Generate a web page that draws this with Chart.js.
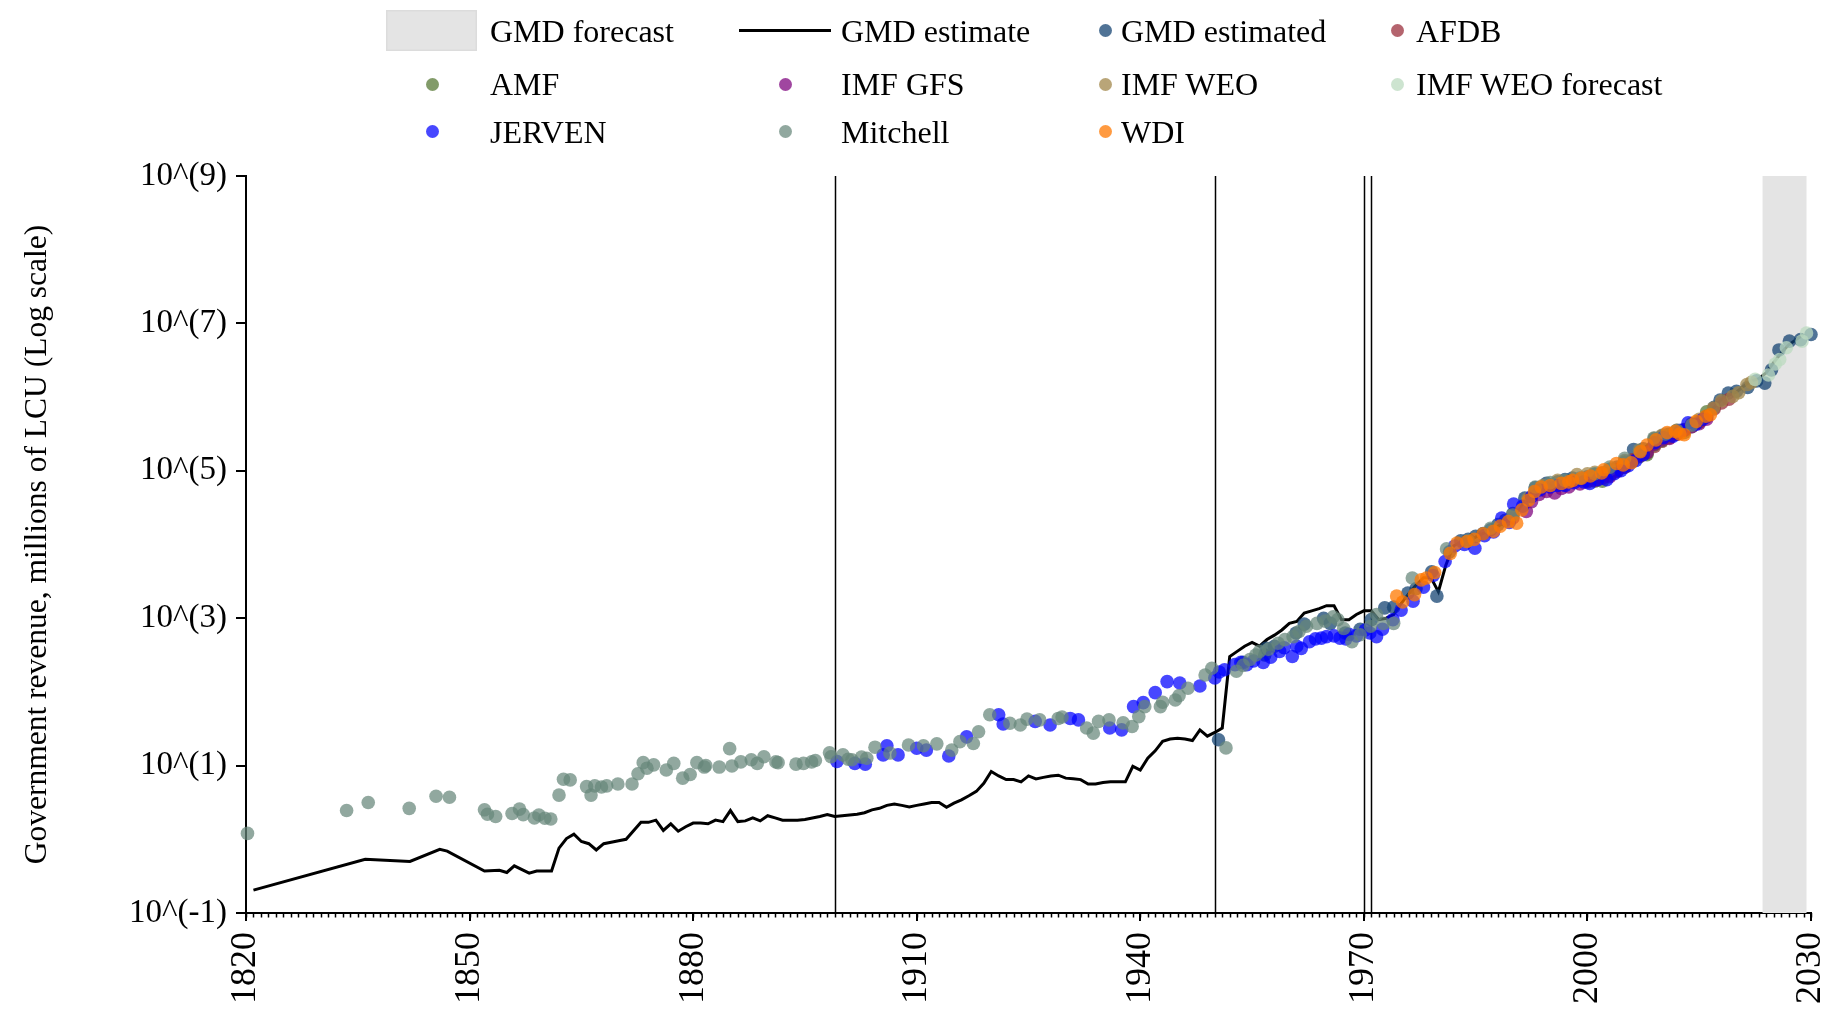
<!DOCTYPE html>
<html><head><meta charset="utf-8">
<script src="https://cdn.jsdelivr.net/npm/chart.js@4.4.1/dist/chart.umd.min.js"></script>
<style>
html,body{margin:0;padding:0;background:#fff;}
#wrap{position:relative;width:1837px;height:1015px;overflow:hidden;}
canvas{position:absolute;left:0;top:0;}
.lg{position:absolute;font-family:'Liberation Serif','Times New Roman',serif;font-size:32px;line-height:32px;color:#000;white-space:nowrap;}
.sw{position:absolute;}
</style></head><body>
<div id="wrap"><canvas id="c" width="1837" height="1015"></canvas><div id="legend"></div></div>
<script>
// ---- axis ticks / annotations ----
const xTicks = [1820,1850,1880,1910,1940,1970,2000,2030];
const yTicks = [-1,1,3,5,7,9];
const yTickLabels = ['10^(-1)','10^(1)','10^(3)','10^(5)','10^(7)','10^(9)'];
const breakYears = [1899,1950,1970,1971];
const forecastSpan = [2023.5,2029.4];
const yTitle = 'Government revenue, millions of LCU (Log scale)';

// ---- series: [year, log10(value)] ----
const gmdEstimate = [[1821,-0.69],[1836,-0.27],[1842,-0.30],[1846,-0.135],[1847,-0.16],[1852,-0.43],[1854,-0.42],[1855,-0.45],[1856,-0.36],[1858,-0.46],[1859,-0.43],[1861,-0.43],[1862,-0.12],[1863,0.01],[1864,0.07],[1865,-0.03],[1866,-0.06],[1867,-0.145],[1868,-0.06],[1869,-0.04],[1870,-0.02],[1871,0.0],[1873,0.23],[1874,0.23],[1875,0.26],[1876,0.12],[1877,0.21],[1878,0.11],[1879,0.17],[1880,0.22],[1881,0.22],[1882,0.21],[1883,0.26],[1884,0.24],[1885,0.39],[1886,0.24],[1887,0.25],[1888,0.29],[1889,0.25],[1890,0.32],[1891,0.29],[1892,0.26],[1893,0.26],[1894,0.26],[1895,0.27],[1896,0.29],[1897,0.31],[1898,0.335],[1899,0.31],[1900,0.32],[1901,0.33],[1902,0.34],[1903,0.36],[1904,0.40],[1905,0.42],[1906,0.46],[1907,0.48],[1908,0.46],[1909,0.44],[1910,0.46],[1911,0.48],[1912,0.50],[1913,0.50],[1914,0.435],[1915,0.49],[1916,0.535],[1917,0.59],[1918,0.65],[1919,0.76],[1920,0.92],[1921,0.86],[1922,0.81],[1923,0.81],[1924,0.78],[1925,0.86],[1926,0.82],[1927,0.84],[1928,0.86],[1929,0.87],[1930,0.83],[1931,0.82],[1932,0.81],[1933,0.75],[1934,0.75],[1935,0.77],[1936,0.78],[1937,0.78],[1938,0.78],[1939,0.99],[1940,0.94],[1941,1.10],[1942,1.20],[1943,1.33],[1944,1.36],[1945,1.37],[1946,1.36],[1947,1.34],[1948,1.485],[1949,1.40],[1950,1.45],[1951,1.51],[1952,2.48],[1953,2.55],[1954,2.62],[1955,2.67],[1956,2.62],[1957,2.71],[1958,2.77],[1959,2.84],[1960,2.93],[1961,2.955],[1962,3.07],[1963,3.10],[1964,3.13],[1965,3.17],[1966,3.17],[1967,2.98],[1968,2.98],[1969,3.05],[1970,3.10],[1971,3.10],[1972,2.98],[1973,3.00],[1974,3.05],[1975,3.20],[1976,3.33],[1977,3.45],[1978,3.55],[1979,3.55],[1980,3.36],[1981,3.72],[1982,3.98],[1983,4.03],[1984,4.05],[1985,4.10],[1986,4.15],[1987,4.19],[1988,4.25],[1989,4.30],[1990,4.38],[1991,4.50],[1992,4.65],[1993,4.74],[1994,4.80],[1995,4.82],[1996,4.84],[1997,4.86],[1998,4.88],[1999,4.89],[2000,4.92],[2001,4.95],[2002,4.98],[2003,5.03],[2004,5.08],[2005,5.14],[2006,5.20],[2007,5.27],[2008,5.34],[2009,5.42],[2010,5.47],[2011,5.51],[2012,5.55],[2013,5.59],[2014,5.64],[2015,5.69],[2016,5.77],[2017,5.86],[2018,5.97],[2019,6.03],[2020,6.07],[2021,6.15],[2022,6.22],[2023,6.25],[2024,6.33],[2025,6.47],[2026,6.60],[2027,6.71],[2028,6.78],[2029,6.85]];

const gmdEstimated = [[1950.5,1.35],[1953.8,2.40],[1956.7,2.50],[1956.9,2.59],[1958,2.62],[1960.9,2.80],[1962,2.92],[1964.6,3.00],[1965.5,2.93],[1967.5,2.80],[1969.5,2.85],[1971,2.98],[1972.8,3.14],[1974,3.15],[1975.9,3.34],[1977,3.40],[1979.1,3.63],[1979.8,3.30],[1981.5,3.90],[1983,4.05],[1984,4.07],[1985,4.11],[1986,4.15],[1987,4.20],[1988,4.27],[1989,4.33],[1990,4.42],[1991.6,4.63],[1993,4.77],[1994.5,4.83],[1996,4.85],[1997,4.88],[1998,4.90],[2000,4.92],[2001,4.95],[2002,4.97],[2003,5.02],[2004,5.05],[2005,5.12],[2006.2,5.29],[2007.5,5.30],[2009,5.43],[2010,5.47],[2011,5.50],[2012,5.54],[2013,5.56],[2014,5.63],[2015,5.67],[2016,5.74],[2017,5.86],[2017.8,5.96],[2018.9,6.055],[2020,6.08],[2021.5,6.13],[2022.7,6.22],[2023.8,6.19],[2024.7,6.37],[2025.7,6.64],[2027.1,6.76],[2028.6,6.78],[2030,6.85]];

const afdb = [[1998,4.86],[1999,4.88],[2000,4.90],[2001,4.91],[2002,4.93],[2003,4.97],[2004,5.02],[2005,5.08],[2006,5.15],[2007,5.20],[2008,5.24],[2009,5.33],[2010,5.40],[2011,5.45],[2012,5.50],[2013,5.55],[2014,5.62],[2015,5.66],[2016,5.73],[2017,5.84],[2018,5.92],[2019,5.97]];

const amf = [[2000,4.87],[2001,4.86],[2002,4.86],[2003,4.94],[2004,5.00],[2005,5.05],[2006,5.12],[2007,5.19],[2008,5.22],[2009,5.35],[2010,5.41],[2011,5.46],[2012,5.50],[2013,5.52],[2014,5.60],[2015,5.66],[2016,5.80]];

const imfGfs = [[1990,4.36],[1991.8,4.45],[1992.5,4.58],[1993.5,4.68],[1994.5,4.72],[1995.6,4.70],[1996.5,4.76],[1997.5,4.78],[1999,4.82],[2000,4.85],[2001,4.87],[2002,4.90],[2003,4.92],[2004,4.99],[2005,5.05],[2006,5.13],[2007,5.20],[2008,5.25],[2009,5.36],[2010,5.42],[2011,5.44],[2012,5.50],[2013,5.55],[2014,5.60],[2015,5.64],[2016,5.70]];

const imfWeo = [[1990,4.40],[1992,4.62],[1994,4.80],[1996,4.87],[1998.6,4.95],[2000,4.96],[2001,4.98],[2003,5.02],[2005,5.14],[2007,5.28],[2009,5.44],[2010,5.48],[2012,5.55],[2014,5.64],[2015,5.70],[2016.9,5.85],[2018,5.95],[2019.5,6.01],[2020.3,6.06],[2021.4,6.17],[2022,6.20]];

const imfWeoForecast = [[2022.5,6.24],[2024.3,6.30],[2025.2,6.45],[2025.8,6.51],[2026.7,6.67],[2028.8,6.76],[2029.4,6.87]];

const jerven = [[1899.3,1.055],[1901.7,1.03],[1903.1,1.02],[1905.5,1.145],[1906.0,1.27],[1907.5,1.145],[1910.0,1.235],[1911.3,1.21],[1914.3,1.13],[1916.7,1.39],[1921.0,1.69],[1921.6,1.565],[1925.9,1.60],[1927.9,1.55],[1930.6,1.64],[1931.7,1.62],[1935.9,1.51],[1937.5,1.485],[1939.1,1.80],[1940.4,1.855],[1942.0,1.99],[1943.6,2.14],[1945.3,2.12],[1948.0,2.08],[1950.0,2.19],[1950.6,2.27],[1951.3,2.30],[1952.7,2.37],[1953.5,2.40],[1954.3,2.37],[1955.2,2.42],[1956.5,2.40],[1957.5,2.47],[1958.7,2.55],[1959.3,2.60],[1960.4,2.48],[1961.0,2.62],[1961.6,2.59],[1962.7,2.68],[1963.5,2.72],[1964.3,2.73],[1965.0,2.75],[1966.0,2.76],[1966.8,2.73],[1967.6,2.72],[1968.0,2.78],[1969.0,2.76],[1970.2,2.84],[1970.8,2.80],[1971.7,2.75],[1972.5,2.85],[1973.9,2.98],[1975.0,3.11],[1976.6,3.23],[1978.0,3.42],[1979.3,3.58],[1980.9,3.77],[1982.2,3.98],[1983.5,4.00],[1984.9,3.95],[1986.2,4.12],[1987.4,4.17],[1988.5,4.36],[1989.5,4.30],[1990.1,4.55],[1991.3,4.52],[1992.5,4.65],[1993.6,4.74],[1995.0,4.78],[1996.0,4.80],[1997.0,4.80],[1998.2,4.84],[1999.5,4.85],[2000.3,4.83],[2001.4,4.88],[2002.6,4.88],[2003.6,4.96],[2004.5,5.00],[2005.5,5.07],[2006.5,5.14],[2007.5,5.22],[2009,5.38],[2010.2,5.45],[2011.5,5.47],[2012.5,5.55],[2013.5,5.65],[2014.5,5.63],[2015.5,5.70]];

const mitchell = [[1820.2,0.08],[1833.5,0.39],[1836.4,0.50],[1841.9,0.42],[1845.5,0.585],[1847.3,0.57],[1852.0,0.40],[1852.4,0.34],[1853.5,0.31],[1855.7,0.35],[1856.7,0.41],[1857.2,0.335],[1858.7,0.29],[1859.3,0.33],[1860.1,0.285],[1860.9,0.275],[1862.0,0.60],[1862.6,0.815],[1863.5,0.806],[1865.7,0.715],[1866.3,0.60],[1866.8,0.725],[1867.7,0.71],[1868.4,0.725],[1869.9,0.75],[1871.8,0.75],[1872.6,0.89],[1873.3,1.04],[1873.8,0.965],[1874.7,1.01],[1876.4,0.94],[1877.4,1.03],[1878.6,0.83],[1879.6,0.88],[1880.5,1.04],[1881.5,0.98],[1881.7,1.00],[1883.5,0.98],[1884.9,1.23],[1885.2,0.995],[1886.4,1.05],[1887.8,1.08],[1888.6,1.03],[1889.5,1.12],[1891.1,1.05],[1891.4,1.04],[1893.8,1.02],[1894.8,1.03],[1895.9,1.05],[1896.4,1.07],[1898.3,1.175],[1898.5,1.12],[1900.1,1.145],[1900.8,1.087],[1901.3,1.08],[1902.6,1.115],[1903.3,1.10],[1904.4,1.25],[1906.4,1.17],[1908.9,1.28],[1910.9,1.27],[1912.7,1.295],[1914.7,1.21],[1915.8,1.325],[1917.6,1.30],[1918.3,1.46],[1919.8,1.69],[1922.5,1.575],[1923.9,1.55],[1924.8,1.63],[1926.5,1.62],[1929.0,1.64],[1929.5,1.66],[1932.8,1.51],[1933.7,1.44],[1934.4,1.60],[1935.8,1.62],[1937.7,1.58],[1938.9,1.53],[1939.8,1.665],[1940.6,1.80],[1942.7,1.80],[1943.0,1.86],[1944.7,1.89],[1945.2,1.95],[1946.4,2.05],[1948.7,2.23],[1949.6,2.32],[1951.5,1.24],[1952.9,2.28],[1953.8,2.36],[1954.7,2.44],[1955.5,2.50],[1956.0,2.55],[1957.2,2.58],[1958.5,2.66],[1959.4,2.71],[1960.5,2.75],[1961.3,2.82],[1962.3,2.89],[1963.7,2.93],[1964.8,2.96],[1965.9,3.02],[1966.5,2.98],[1967.3,2.86],[1968.4,2.68],[1969.5,2.775],[1970.9,2.89],[1971.7,3.05],[1972.6,2.93],[1974.0,2.93],[1976.5,3.545],[1981.1,3.94],[1984,4.05],[1987.0,4.22],[1990,4.40],[1993,4.78],[1995,4.84],[1997,4.87],[1999.0,4.90],[2001,4.96],[2003,5.05],[2005,5.17],[2007,5.27],[2008.9,5.445],[2010.5,5.50],[2012,5.55],[2014,5.62]];

const wdi = [[1974.4,3.30],[1975.2,3.22],[1976.8,3.32],[1977.7,3.52],[1978.4,3.545],[1979.5,3.62],[1981.6,3.88],[1982.5,4.02],[1983.8,4.04],[1984.8,4.07],[1986.0,4.145],[1987.4,4.18],[1988.3,4.25],[1989.4,4.31],[1990.5,4.29],[1991.2,4.47],[1992.1,4.60],[1992.9,4.72],[1993.8,4.78],[1995.0,4.80],[1996.5,4.83],[1997.5,4.85],[1998,4.87],[1999.2,4.90],[2000.4,4.93],[2001.9,4.97],[2002.2,5.015],[2003.9,5.10],[2004.8,5.08],[2005.9,5.11],[2007.1,5.26],[2008.0,5.35],[2009.2,5.42],[2010.7,5.52],[2011.8,5.535],[2012.4,5.50],[2013.0,5.49],[2014.6,5.67],[2015.9,5.74],[2016.5,5.76]];

// ---- styles ----
const pts = a => a.map(([x,y]) => ({x, y}));
const scatterSeries = [
  {label:'GMD estimated', data:gmdEstimated, color:'rgba(22,68,115,0.75)', order:10},
  {label:'AFDB', data:afdb, color:'rgba(155,48,62,0.75)', order:9},
  {label:'AMF', data:amf, color:'rgba(88,122,55,0.75)', order:8},
  {label:'IMF GFS', data:imfGfs, color:'rgba(128,8,128,0.75)', order:7},
  {label:'IMF WEO', data:imfWeo, color:'rgba(162,135,75,0.75)', order:6},
  {label:'IMF WEO forecast', data:imfWeoForecast, color:'rgba(188,219,192,0.75)', order:5},
  {label:'JERVEN', data:jerven, color:'rgba(0,0,255,0.72)', order:4},
  {label:'Mitchell', data:mitchell, color:'rgba(102,135,122,0.72)', order:3},
  {label:'WDI', data:wdi, color:'rgba(255,120,0,0.75)', order:2}
];
const datasets = [{
  type:'line', label:'GMD estimate', data:pts(gmdEstimate), borderColor:'#000', borderWidth:3,
  pointRadius:0, fill:false, tension:0, order:20, clip:false
}].concat(scatterSeries.map(s => ({
  type:'scatter', label:s.label, data:pts(s.data), backgroundColor:s.color, borderWidth:0,
  pointRadius:6.8, pointHoverRadius:6.8, order:s.order, clip:false
})));

const FONT = 'Liberation Serif';
const decor = {
  id:'decor',
  beforeDatasetsDraw(chart){
    const {ctx, chartArea:a, scales:{x}} = chart;
    ctx.save();
    const x0 = x.getPixelForValue(forecastSpan[0]), x1 = x.getPixelForValue(forecastSpan[1]);
    ctx.fillStyle = '#e4e4e4';
    ctx.fillRect(x0, a.top, x1 - x0, a.bottom - a.top);
    ctx.strokeStyle = '#000'; ctx.lineWidth = 1.5;
    breakYears.forEach(yr => {
      const px = Math.round(x.getPixelForValue(yr)) + 0.5;
      ctx.beginPath(); ctx.moveTo(px, a.top); ctx.lineTo(px, a.bottom); ctx.stroke();
    });
    ctx.restore();
  },
  afterDraw(chart){
    const {ctx, chartArea:a, scales:{x}} = chart;
    ctx.save();
    ctx.strokeStyle = '#000'; ctx.lineWidth = 1.5;
    for (let yr = xTicks[0]; yr <= xTicks[xTicks.length-1]; yr++) {
      const px = Math.round(x.getPixelForValue(yr)) + 0.5;
      ctx.beginPath(); ctx.moveTo(px, a.bottom); ctx.lineTo(px, a.bottom + 4.5); ctx.stroke();
    }
    ctx.restore();
  }
};

new Chart(document.getElementById('c'), {
  type:'scatter',
  data:{datasets},
  options:{
    responsive:false, animation:false, events:[],
    layout:{padding:{top:176, left:19, right:26, bottom:0}},
    plugins:{legend:{display:false}, tooltip:{enabled:false}},
    scales:{
      x:{type:'linear', min:xTicks[0], max:xTicks[xTicks.length-1],
        afterBuildTicks:s => { s.ticks = xTicks.map(v => ({value:v})); },
        afterFit:s => { s.height = 102; s.paddingLeft = 0; s.paddingRight = 0; },
        ticks:{autoSkip:false, maxRotation:90, minRotation:90, padding:11, color:'#000',
          font:{family:FONT, size:36}, callback:v => String(v)},
        grid:{drawOnChartArea:false, drawTicks:true, tickLength:8, color:'#000', lineWidth:2},
        border:{display:true, color:'#000', width:2}
      },
      y:{type:'linear', min:yTicks[0], max:yTicks[yTicks.length-1],
        afterBuildTicks:s => { s.ticks = yTicks.map(v => ({value:v})); },
        afterFit:s => { s.width = 227; s.paddingTop = 0; s.paddingBottom = 0; },
        ticks:{autoSkip:false, padding:9, color:'#000', font:{family:FONT, size:33},
          callback:v => yTickLabels[yTicks.indexOf(v)]},
        grid:{drawOnChartArea:false, drawTicks:true, tickLength:10, color:'#000', lineWidth:2},
        border:{display:true, color:'#000', width:2},
        title:{display:true, text:yTitle, color:'#000', font:{family:FONT, size:31.5}, padding:{top:0, bottom:0}}
      }
    }
  },
  plugins:[decor]
});

// ---- legend (HTML text) ----
const legendItems = [
  {label:'GMD forecast', kind:'box', color:'#e4e4e4'},
  {label:'GMD estimate', kind:'line', color:'#000'},
  {label:'GMD estimated', kind:'dot', color:scatterSeries[0].color},
  {label:'AFDB', kind:'dot', color:scatterSeries[1].color},
  {label:'AMF', kind:'dot', color:scatterSeries[2].color},
  {label:'IMF GFS', kind:'dot', color:scatterSeries[3].color},
  {label:'IMF WEO', kind:'dot', color:scatterSeries[4].color},
  {label:'IMF WEO forecast', kind:'dot', color:scatterSeries[5].color},
  {label:'JERVEN', kind:'dot', color:scatterSeries[6].color},
  {label:'Mitchell', kind:'dot', color:scatterSeries[7].color},
  {label:'WDI', kind:'dot', color:scatterSeries[8].color}
];
const rowY = [30.5, 84, 131.5];
const colText = [490, 841, 1121, 1416];
const colDot = [432, 785, 1105, 1397];
const lg = document.getElementById('legend');
legendItems.forEach((it, i) => {
  const r = Math.floor(i / 4), c = i % 4, cy = rowY[r];
  const sw = document.createElement('div'); sw.className = 'sw';
  if (it.kind === 'box') {
    Object.assign(sw.style, {left:'386px', top:(cy-21)+'px', width:'91px', height:'41px', background:it.color, boxShadow:'inset 0 0 0 1.5px #dcdcdc'});
  } else if (it.kind === 'line') {
    Object.assign(sw.style, {left:'739px', top:(cy-1.75)+'px', width:'92px', height:'3.5px', background:it.color});
  } else {
    Object.assign(sw.style, {left:(colDot[c]-6.5)+'px', top:(cy-6.5)+'px', width:'13px', height:'13px', borderRadius:'50%', background:it.color});
  }
  lg.appendChild(sw);
  const t = document.createElement('div'); t.className = 'lg';
  t.textContent = it.label;
  t.style.left = colText[c] + 'px'; t.style.top = (cy - 16) + 'px';
  lg.appendChild(t);
});
</script>
</body></html>
